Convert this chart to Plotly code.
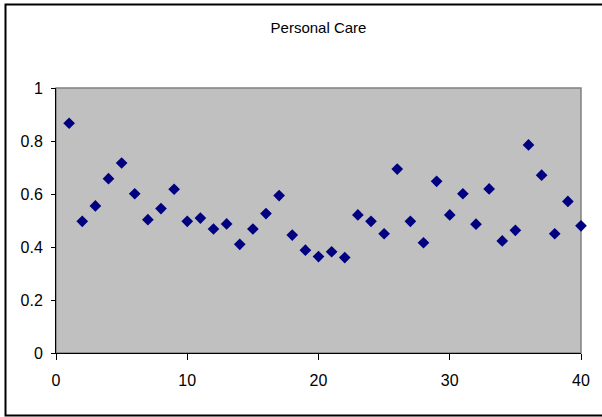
import plotly.graph_objects as go

x_vals = list(range(1, 41))
y_vals = [0.867, 0.497, 0.555, 0.658, 0.717, 0.601, 0.503, 0.545, 0.618, 0.497,
          0.509, 0.468, 0.487, 0.410, 0.468, 0.526, 0.594, 0.445, 0.388, 0.364,
          0.382, 0.360, 0.521, 0.497, 0.450, 0.694, 0.497, 0.416, 0.648, 0.521,
          0.601, 0.486, 0.619, 0.423, 0.463, 0.785, 0.671, 0.450, 0.572, 0.480]
x_ticks = [0, 10, 20, 30, 40]
y_ticks = [0, 0.2, 0.4, 0.6, 0.8, 1]
y_tick_text = ["0", "0.2", "0.4", "0.6", "0.8", "1"]
title_text = "Personal Care"

fig = go.Figure()
fig.add_trace(go.Scatter(
    x=x_vals, y=y_vals, mode="markers",
    marker=dict(symbol="diamond", size=9, color="#000080",
                line=dict(width=0)),
    showlegend=False, cliponaxis=False,
))

W, H = 602, 417
ml, mr, mt, mb = 56, 21, 88, 64
pw, ph = W - ml - mr, H - mt - mb

def px_to_paper_x(px):
    return (px - ml) / pw

def px_to_paper_y(py):
    return (H - mb - py) / ph

shapes = [
    # outer chart border
    dict(type="rect", xref="paper", yref="paper",
         x0=px_to_paper_x(5.5), x1=px_to_paper_x(604),
         y0=px_to_paper_y(415.5), y1=px_to_paper_y(4.5),
         line=dict(color="black", width=2), fillcolor="rgba(0,0,0,0)", layer="below"),
    # plot area gray border
    dict(type="rect", xref="paper", yref="paper", x0=0, x1=1, y0=0, y1=1,
         line=dict(color="#808080", width=1.5), fillcolor="rgba(0,0,0,0)", layer="below"),
]

fig.update_layout(
    width=W, height=H,
    margin=dict(l=ml, r=mr, t=mt, b=mb, pad=0),
    paper_bgcolor="white",
    plot_bgcolor="#C0C0C0",
    font=dict(family="Liberation Sans, Arial, sans-serif", size=16, color="black"),
    title=dict(text=title_text, x=0.5, xref="paper", xanchor="center",
               y=1 - 28 / H, yanchor="middle",
               font=dict(size=15, color="black")),
    shapes=shapes,
    xaxis=dict(range=[0, 40], tickvals=x_ticks, ticktext=[str(v) for v in x_ticks],
               showgrid=False, zeroline=False, showline=True, linecolor="black",
               linewidth=1, ticks="outside", ticklen=6, tickcolor="black",
               ticklabelstandoff=7, tickfont=dict(size=16)),
    yaxis=dict(range=[0, 1], tickvals=y_ticks, ticktext=y_tick_text,
               showgrid=False, zeroline=False, showline=True, linecolor="black",
               linewidth=1, ticks="outside", ticklen=4, tickcolor="black",
               ticklabelstandoff=5, tickfont=dict(size=16)),
)

fig.write_html("out.html")
